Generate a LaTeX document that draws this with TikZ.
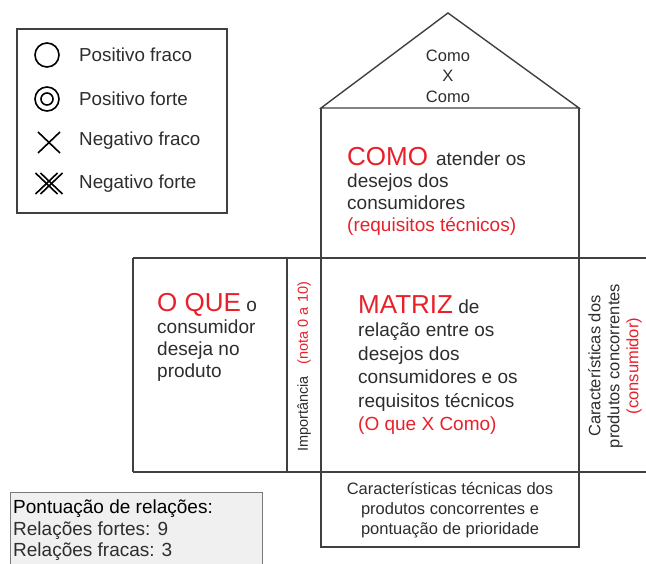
\documentclass[tikz,border=0pt]{standalone}
\usepackage{fontspec}
\setmainfont{Liberation Sans}
\usetikzlibrary{positioning}

\definecolor{qfdred}{RGB}{232,32,42}
\definecolor{qfdline}{RGB}{64,64,64}
\definecolor{qfdtext}{RGB}{45,45,45}
\definecolor{qfdfill}{RGB}{240,240,240}

\newcommand{\bigred}[1]{{\color{qfdred}\fontsize{26}{26}\selectfont #1}}

\begin{document}
\begin{tikzpicture}[x=1pt, y=-1pt,
  wall/.style={draw=qfdline, line width=1.4pt},
  sym/.style={draw=black, line width=1.6pt},
  body/.style={font=\fontsize{19}{22}\selectfont, text=qfdtext, align=left, inner sep=0pt, anchor=north west},
  legtext/.style={font=\fontsize{18.8}{21}\selectfont, text=qfdtext, anchor=west, inner sep=0pt}]
\useasboundingbox (0,0) rectangle (646,564);

% Legend
\draw[wall, line width=1.6pt] (17,29) rectangle (227,213);
\draw[sym] (47,55) circle (12pt);
\draw[sym] (47,99) circle (12pt);
\draw[sym] (47,99) circle (6pt);
\draw[sym] (38,132) -- (60,153);
\draw[sym] (38,153) -- (60,132);
\foreach \d in {-2.5,2.5} {
    \draw[sym] (38+\d,173) -- (60+\d,194);
    \draw[sym] (38+\d,194) -- (60+\d,173);
}
\node[legtext] (posfraco) at (79,55) {Positivo fraco};
\node[legtext] (posforte) at (79,99) {Positivo forte};
\node[legtext] (negfraco) at (79,141) {Negativo fraco};
\node[legtext] (negforte) at (79,184) {Negativo forte};

% House
\draw[wall] (321,108) -- (448,13) -- (579,108) -- cycle;
\draw[wall] (321,108) -- (321,547) -- (579,547) -- (579,108);
\draw[wall] (133,258) -- (660,258);
\draw[wall] (133,472) -- (660,472);
\draw[wall] (133,258) -- (133,472);
\draw[wall] (287,258) -- (287,472);

% Roof
\node[font=\fontsize{16.5}{20.5}\selectfont, text=qfdtext, align=center, inner sep=0pt] (teto) at (448,76) {Como\\X\\Como};

% Rooms
\node[body] (como) at (347,147) {\bigred{COMO}\hspace{8pt}atender os\\desejos dos\\consumidores\\\textcolor{qfdred}{(requisitos técnicos)}};
\node[body] (oque) at (157,293) {\bigred{O QUE} o\\consumidor\\deseja no\\produto};
\node[body, font=\fontsize{19}{23.5}\selectfont] (matriz) at (358,295) {\bigred{MATRIZ} de\\relação entre os\\desejos dos\\consumidores e os\\requisitos técnicos\\\textcolor{qfdred}{(O que X Como)}};
\node[font=\fontsize{14.5}{17}\selectfont, text=qfdtext, rotate=90, inner sep=0pt] (importancia) at (304,367) {Importância\hspace{12pt}\textcolor{qfdred}{(nota 0 a 10)}};
\node[font=\fontsize{16.5}{19}\selectfont, text=qfdtext, align=center, rotate=90, inner sep=0pt] (concorrentes) at (615,366) {Características dos\\produtos concorrentes\\\textcolor{qfdred}{(consumidor)}};
\node[font=\fontsize{16.5}{20}\selectfont, text=qfdtext, align=center, inner sep=0pt] (tecnicas) at (450,510) {Características técnicas dos\\produtos concorrentes e\\pontuação de prioridade};

% Score box
\draw[draw=qfdline!70, fill=qfdfill, line width=1pt] (10,492) rectangle (262,590);
\node[font=\fontsize{19}{21.5}\selectfont, text=qfdtext, align=left, anchor=north west, inner sep=0pt] (pontuacao) at (13,500) {\textcolor{black}{Pontuação de relações:}\\Relações fortes: 9\\Relações fracas: 3};
\end{tikzpicture}
\end{document}
